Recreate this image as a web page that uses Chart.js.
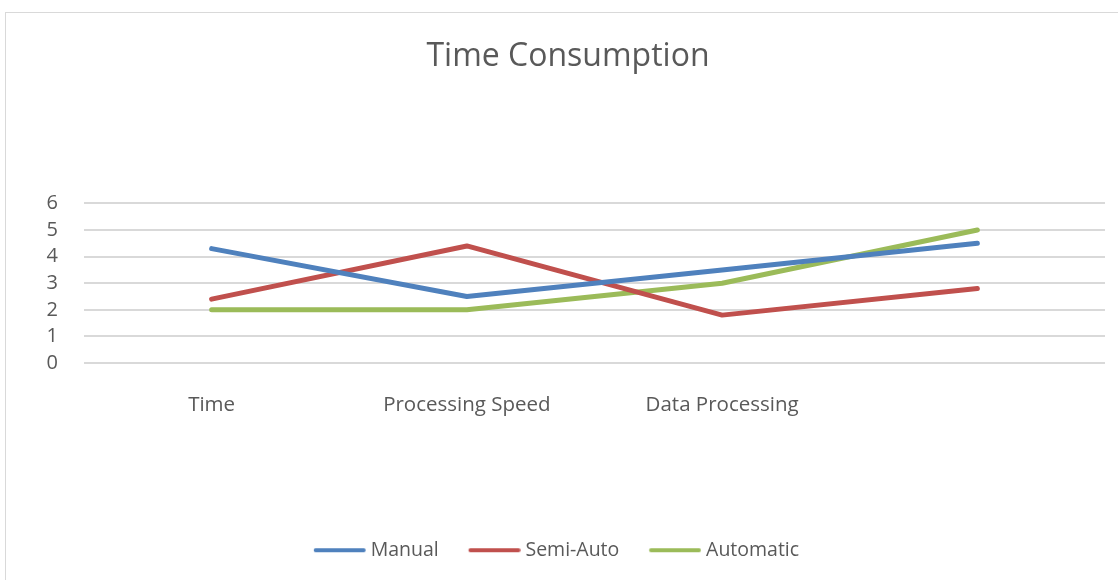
<!DOCTYPE html>
<html>
<head>
<meta charset="utf-8">
<script src="https://cdn.jsdelivr.net/npm/chart.js@4.4.1/dist/chart.umd.min.js"></script>
<style>
  html, body { margin: 0; padding: 0; background: #fff; overflow: hidden; }
  #frame { position: absolute; left: 5px; top: 12px; width: 1200px; height: 700px; border: 1px solid #d9d9d9; }
  #wrap { position: absolute; left: 0; top: 0; width: 1118px; height: 580px; }
</style>
</head>
<body>
<div id="frame"></div>
<div id="wrap"><canvas id="chart"></canvas></div>
<script>
// chart values
const categories = ["Time", "Processing Speed", "Data Processing", ""];
const manual = [4.3, 2.5, 3.5, 4.5];
const semiAuto = [2.4, 4.4, 1.8, 2.8];
const automatic = [2, 2, 3, 5];

const textColor = "#595959";
const fontFamily = "'Open Sans', sans-serif";

// legend swatch: a short line drawn a bit right of the box so the text sits close to it
function legendLine(color) {
  const c = document.createElement("canvas");
  c.width = 62;
  c.height = 6;
  const ctx = c.getContext("2d");
  ctx.strokeStyle = color;
  ctx.lineWidth = 4;
  ctx.lineCap = "round";
  ctx.beginPath();
  ctx.moveTo(11.75, 3);
  ctx.lineTo(59.75, 3);
  ctx.stroke();
  return c;
}

const lineDataset = (label, data, color) => ({
  label: label,
  data: data,
  borderColor: color,
  backgroundColor: color,
  borderWidth: 5,
  borderCapStyle: "round",
  borderJoinStyle: "round",
  pointRadius: 0,
  pointHoverRadius: 0,
  pointStyle: legendLine(color),
  tension: 0,
});

// move the legend a little left, like the original
const shiftLegend = {
  id: "shiftLegend",
  afterLayout(chart) {
    chart.legend.left -= 14;
    chart.legend.right -= 14;
  },
};

const chart = new Chart(document.getElementById("chart"), {
  type: "line",
  data: {
    labels: categories,
    datasets: [
      lineDataset("Manual", manual, "#4F81BD"),
      lineDataset("Semi-Auto", semiAuto, "#C0504D"),
      lineDataset("Automatic", automatic, "#9BBB59"),
    ],
  },
  options: {
    responsive: true,
    maintainAspectRatio: false,
    animation: false,
    layout: { padding: { left: 31, right: 13, top: 0, bottom: 10 } },
    plugins: {
      title: {
        display: true,
        text: "Time Consumption",
        color: textColor,
        font: { family: fontFamily, size: 32, weight: "normal", lineHeight: 1.2 },
        padding: { top: 38, bottom: 127 },
      },
      legend: {
        position: "bottom",
        labels: {
          color: textColor,
          font: { family: fontFamily, size: 19.5 },
          usePointStyle: true,
          pointStyleWidth: 52,
          padding: 25,
        },
      },
      tooltip: { enabled: false },
    },
    scales: {
      x: {
        offset: true,
        grid: { display: false, drawTicks: false },
        border: { display: false },
        ticks: {
          color: textColor,
          font: { family: fontFamily, size: 20.5 },
          padding: 30,
          maxRotation: 0,
          autoSkip: false,
        },
        afterFit: (scale) => { scale.height = 152.5; },
      },
      y: {
        min: 0,
        max: 6,
        grid: { color: "#d9d9d9", lineWidth: 2, drawTicks: false },
        border: { display: false },
        ticks: {
          stepSize: 1,
          autoSkip: false,
          color: textColor,
          font: { family: fontFamily, size: 20 },
          padding: 26,
        },
        afterFit: (scale) => { scale.width = 53; },
      },
    },
  },
  plugins: [shiftLegend],
});
</script>
</body>
</html>
